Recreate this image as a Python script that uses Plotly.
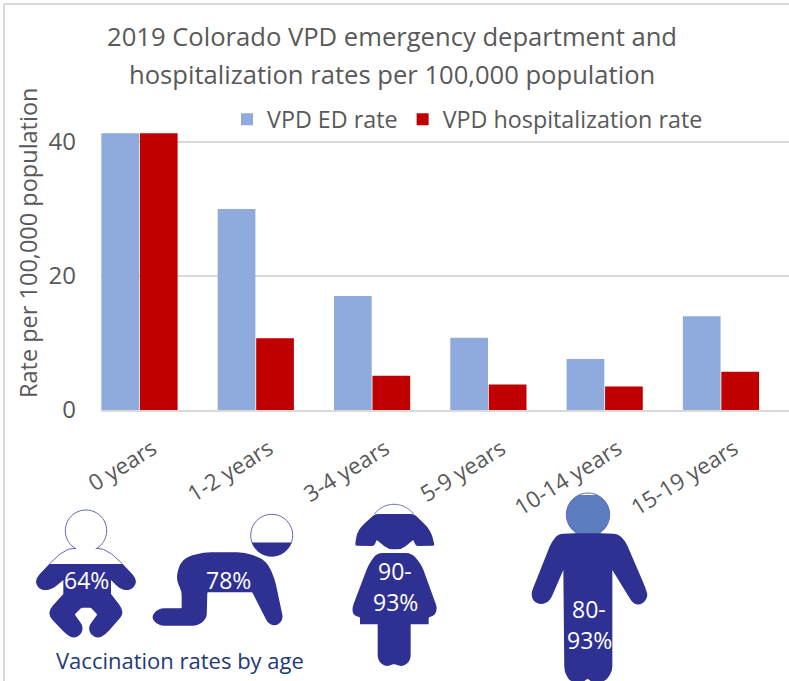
import math
import plotly.graph_objects as go

age_groups = ["0 years", "1-2 years", "3-4 years", "5-9 years", "10-14 years", "15-19 years"]
ed_rate = [41.3, 30.0, 17.0, 10.8, 7.6, 14.0]
hosp_rate = [41.3, 10.7, 5.1, 3.8, 3.5, 5.7]
y_ticks = [0, 20, 40]
title_lines = ["2019 Colorado VPD emergency department and", "hospitalization rates per 100,000 population"]
y_title = "Rate per 100,000 population"
vacc_caption = "Vaccination rates by age"

W, H = 789, 681
L, R, T, B = 101, 789, 133, 410
NAVY = "#2e3192"
GREY = "#595959"
FONT = "Open Sans"


def px(x):
    return (x - L) / (R - L)


def py(y):
    return (B - y) / (B - T)


def rounded(points, r=3, ox=0, oy=480):
    """Closed outline in page px from crop coords (3x); a third value sets that corner's radius."""
    pts = [(ox + p[0] / 3, oy + p[1] / 3, p[2] if len(p) > 2 else r) for p in points]
    n = len(pts)
    out = []
    for i in range(n):
        p0, p1, p2 = pts[i - 1], pts[i], pts[(i + 1) % n]
        d1 = math.dist(p0[:2], p1[:2])
        d2 = math.dist(p1[:2], p2[:2])
        rr = p1[2]
        r1 = min(rr, d1 / 2) / d1
        r2 = min(rr, d2 / 2) / d2
        a = (p1[0] + (p0[0] - p1[0]) * r1, p1[1] + (p0[1] - p1[1]) * r1)
        b = (p1[0] + (p2[0] - p1[0]) * r2, p1[1] + (p2[1] - p1[1]) * r2)
        out.append(f"{'M' if i == 0 else 'L'}{px(a[0]):.5f},{py(a[1]):.5f}")
        out.append(f"Q{px(p1[0]):.5f},{py(p1[1]):.5f} {px(b[0]):.5f},{py(b[1]):.5f}")
    return " ".join(out) + " Z"


def arc(cx, cy, r, a0, a1, closed=False, steps=40):
    """Arc in page px; angles in degrees, clockwise on screen."""
    seg = []
    for i in range(steps + 1):
        t = math.radians(a0 + (a1 - a0) * i / steps)
        seg.append(f"{'M' if i == 0 else 'L'}{px(cx + r * math.cos(t)):.5f},{py(cy + r * math.sin(t)):.5f}")
    return " ".join(seg) + (" Z" if closed else "")


def line(points, ox=0, oy=480):
    return " ".join(
        f"{'M' if i == 0 else 'L'}{px(ox + a / 3):.5f},{py(oy + b / 3):.5f}" for i, (a, b) in enumerate(points)
    )


def fill(path, color=NAVY):
    return dict(type="path", xref="paper", yref="paper", path=path, fillcolor=color, line=dict(width=0), layer="above")


def stroke(path, fillc="rgba(0,0,0,0)", w=1):
    return dict(type="path", xref="paper", yref="paper", path=path, fillcolor=fillc,
                line=dict(color="#6668b8", width=w), layer="above")


baby = [(148, 252, 0), (368, 252, 0), (402, 288, 3), (410, 305, 6), (400, 325, 6), (380, 332, 6), (358, 325, 4),
        (333, 300, 0), (333, 342, 0), (366, 385, 5), (368, 405, 5), (318, 462, 5), (295, 475, 6), (272, 465, 6),
        (265, 440, 5), (292, 403, 1), (272, 383, 1), (245, 383, 1), (224, 403, 1), (250, 440, 5), (243, 465, 6),
        (220, 475, 6), (198, 462, 5), (148, 410, 5), (148, 388, 5), (190, 342, 0), (190, 300, 0), (160, 325, 4),
        (135, 332, 6), (115, 325, 6), (106, 305, 6), (114, 288, 3)]
crawler = [(527, 295, 8), (545, 235, 16), (610, 217, 8), (735, 217, 8), (800, 240, 14), (825, 300, 5), (850, 418, 5),
           (830, 438, 6), (805, 432, 5), (757, 337, 1), (622, 337, 1), (620, 415, 5), (595, 437, 6), (475, 437, 6),
           (452, 412, 8), (475, 385, 6), (545, 385, 1), (545, 335, 4)]
girl_hair = [(105, 197, 2), (112, 150, 10), (165, 102, 3), (282, 102, 3), (332, 150, 10), (344, 197, 2), (288, 198, 2),
             (280, 180, 1), (245, 208, 5), (205, 208, 5), (170, 180, 1), (162, 198, 2)]
girl_body = [(170, 219, 6), (275, 219, 6), (305, 255, 5), (352, 385, 4), (345, 405, 4), (326, 412, 1), (326, 433, 0),
             (272, 433, 0), (272, 540, 5), (250, 561, 5), (222, 552, 1), (195, 561, 5), (173, 540, 5), (173, 433, 0),
             (120, 433, 0), (120, 412, 1), (100, 405, 4), (96, 385, 4), (145, 255, 5)]
boy = [(770, 160, 1), (840, 160, 1), (895, 162, 5), (917, 185, 5), (975, 320, 5), (985, 350, 5), (965, 375, 7),
       (940, 372, 6), (877, 270, 0), (877, 575, 5), (855, 604, 4), (815, 606, 3), (803, 596, 1), (790, 606, 3),
       (750, 604, 4), (733, 575, 5), (730, 270, 0), (690, 362, 6), (665, 375, 7), (640, 365, 6), (633, 340, 5),
       (695, 185, 5), (715, 162, 5)]

shapes = [
    # page frame
    dict(type="line", xref="paper", yref="paper", x0=px(4), x1=px(4), y0=py(4), y1=py(681), line=dict(color="#d9d9d9", width=2), layer="below"),
    dict(type="line", xref="paper", yref="paper", x0=px(4), x1=px(789), y0=py(4), y1=py(4), line=dict(color="#d9d9d9", width=2), layer="below"),
    # infant
    stroke(arc(86, 530.7, 20.7, 118, 422)),
    stroke(line([(225, 205), (205, 208), (180, 222), (148, 252)])),
    stroke(line([(290, 205), (310, 208), (335, 222), (368, 252)])),
    fill(rounded(baby)),
    # crawler
    stroke(arc(271.7, 535.3, 21, 0, 360), "#ffffff"),
    fill(arc(271.7, 535.3, 21, 20, 160, closed=True)),
    fill(rounded(crawler)),
    # girl
    stroke(arc(394, 528.7, 24.4, 217, 323)),
    fill(rounded(girl_hair, ox=320)),
    fill(rounded(girl_body, ox=320)),
    # boy
    fill(arc(588, 514.7, 21.7, -65, 245, closed=True), "#5b7dbd"),
    stroke(arc(588, 514.7, 21.7, 0, 360), w=1),
    fill(rounded(boy, ox=320)),
]


def label(text, x, y, size=23, color="#ffffff", **kw):
    return dict(text=text, x=px(x), y=py(y), xref="paper", yref="paper", xanchor="center", yanchor="middle",
                showarrow=False, font=dict(family=FONT, size=size, color=color), **kw)


annotations = [
    label(title_lines[0], 392, 37, 25.6, GREY),
    label(title_lines[1], 392, 75, 25.6, GREY),
    label(y_title, 28, 243, 23.5, GREY, textangle=-90),
    label("64%", 86, 580),
    label("78%", 228, 580),
    label("90-", 395, 571),
    label("93%", 395, 602),
    label("80-", 589, 609),
    label("93%", 589, 640),
    label(vacc_caption, 180, 660, 22, "#1f3a78"),
]

fig = go.Figure()
fig.add_bar(name="VPD ED rate", x=age_groups, y=ed_rate, marker=dict(color="#8faadc", line=dict(width=0)))
fig.add_bar(name="VPD hospitalization rate", x=age_groups, y=hosp_rate, marker=dict(color="#c00000", line=dict(width=0)))

fig.update_layout(
    width=W, height=H, autosize=False,
    margin=dict(l=L, r=W - R, t=T, b=H - B, pad=0),
    paper_bgcolor="#ffffff", plot_bgcolor="#ffffff",
    barmode="group", bargap=0.338, bargroupgap=0.02,
    font=dict(family=FONT, color=GREY, size=20),
    legend=dict(orientation="h", x=px(227), y=py(97.5), xanchor="left", yanchor="top",
                font=dict(family=FONT, size=23.3, color=GREY),
                bgcolor="rgba(0,0,0,0)", traceorder="normal"),
    shapes=shapes, annotations=annotations,
    xaxis=dict(range=[-0.331, 5.585], tickangle=-32, showgrid=False, showline=True, linecolor="#d9d9d9", linewidth=2,
               ticks="", tickfont=dict(family=FONT, size=22.5, color=GREY), ticklabelstandoff=15, ticklabelshift=13),
    yaxis=dict(range=[0, 41.34], tickvals=y_ticks, showgrid=True, gridcolor="#d9d9d9", gridwidth=2, zeroline=False,
               showline=False, ticks="", tickfont=dict(family=FONT, size=24, color=GREY), ticklabelstandoff=24),
)
fig.write_html("out.html", config=dict(displayModeBar=False),
               post_script="document.body.style.margin='0';document.body.style.overflow='hidden';")
